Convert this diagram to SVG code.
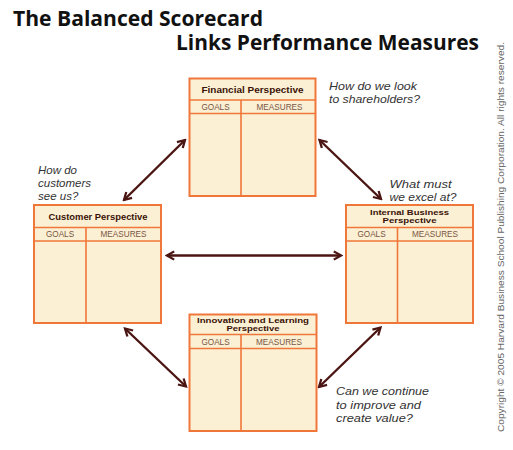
<svg xmlns="http://www.w3.org/2000/svg" width="513" height="450" viewBox="0 0 513 450">
<style>
.bg{fill:#ffffff}
.box{fill:#FBF0D3;stroke:#F0773A;stroke-width:2}
.sep{stroke:#F0773A;stroke-width:1.6;fill:none}
.hd{font-family:"Liberation Sans",Arial,sans-serif;font-weight:bold;font-size:9px;fill:#3A1208;text-anchor:middle}
.hd2{font-family:"Liberation Sans",Arial,sans-serif;font-weight:bold;font-size:7.2px;fill:#3A1208;text-anchor:middle}
.col{font-family:"Liberation Sans",Arial,sans-serif;font-size:8.2px;fill:#7A5444;text-anchor:middle}
.q{font-family:"Liberation Sans",Arial,sans-serif;font-style:italic;font-size:11.5px;fill:#333333}
.title{font-family:"Open Sans","Liberation Sans",sans-serif;font-weight:bold;font-size:21px;fill:#111111}
.copy{font-family:"Liberation Sans",Arial,sans-serif;font-size:9.5px;fill:#666666}
.arr{stroke:#4A1512;stroke-width:2.4;fill:none;marker-start:url(#hs);marker-end:url(#he)}
</style>
<defs>
<marker id="he" viewBox="0 0 10 10" refX="8" refY="5" markerWidth="4.3" markerHeight="4.3" orient="auto" markerUnits="strokeWidth">
<path d="M1,1 L8,5 L1,9" fill="none" stroke="#4A1512" stroke-width="2.2"/>
</marker>
<marker id="hs" viewBox="0 0 10 10" refX="2" refY="5" markerWidth="4.3" markerHeight="4.3" orient="auto" markerUnits="strokeWidth">
<path d="M9,1 L2,5 L9,9" fill="none" stroke="#4A1512" stroke-width="2.2"/>
</marker>
</defs>
<rect class="bg" x="0" y="0" width="513" height="450"/>
<g id="title">
<text class="title" x="13" y="26" textLength="250" lengthAdjust="spacingAndGlyphs">The Balanced Scorecard</text>
<text class="title" x="176" y="50" textLength="303" lengthAdjust="spacingAndGlyphs">Links Performance Measures</text>
</g>
<g id="copyright">
<text class="copy" transform="translate(504,432) rotate(-90)" textLength="390" lengthAdjust="spacingAndGlyphs">Copyright © 2005 Harvard Business School Publishing Corporation. All rights reserved.</text>
</g>
<g id="connectors">
<line class="arr" x1="185" y1="140" x2="124" y2="200"/>
<line class="arr" x1="319.5" y1="140" x2="381" y2="199"/>
<line class="arr" x1="167" y1="255.5" x2="341" y2="255.5"/>
<line class="arr" x1="125" y1="328.5" x2="186" y2="386.5"/>
<line class="arr" x1="380.5" y1="327.5" x2="319" y2="387"/>
</g>
<g id="financial">
<rect class="box" x="189.5" y="78.5" width="126" height="117.5"/>
<path class="sep" d="M189.5,100 H315.5 M189.5,113.5 H315.5 M241,100 V196"/>
<text class="hd" x="252.5" y="93" textLength="102" lengthAdjust="spacingAndGlyphs">Financial Perspective</text>
<text class="col" x="215.5" y="110">GOALS</text>
<text class="col" x="279.5" y="110">MEASURES</text>
</g>
<g id="customer">
<rect class="box" x="34" y="205" width="127" height="118"/>
<path class="sep" d="M34,227.5 H161 M34,241 H161 M86,227.5 V323"/>
<text class="hd" x="98" y="220" textLength="99" lengthAdjust="spacingAndGlyphs">Customer Perspective</text>
<text class="col" x="60" y="237">GOALS</text>
<text class="col" x="123.5" y="237">MEASURES</text>
</g>
<g id="internal">
<rect class="box" x="346" y="205" width="127" height="118"/>
<path class="sep" d="M346,227.5 H473 M346,241 H473 M397.5,227.5 V323"/>
<text class="hd2" x="409.5" y="214.5" textLength="79" lengthAdjust="spacingAndGlyphs">Internal Business</text>
<text class="hd2" x="409.5" y="222.8" textLength="54" lengthAdjust="spacingAndGlyphs">Perspective</text>
<text class="col" x="371.5" y="237">GOALS</text>
<text class="col" x="435" y="237">MEASURES</text>
</g>
<g id="innovation">
<rect class="box" x="189.5" y="314.5" width="127" height="116.5"/>
<path class="sep" d="M189.5,334.5 H316.5 M189.5,348.5 H316.5 M241,334.5 V431"/>
<text class="hd2" x="253" y="323" textLength="112" lengthAdjust="spacingAndGlyphs">Innovation and Learning</text>
<text class="hd2" x="253" y="331.3" textLength="53" lengthAdjust="spacingAndGlyphs">Perspective</text>
<text class="col" x="215.5" y="345">GOALS</text>
<text class="col" x="279" y="345">MEASURES</text>
</g>
<g id="questions">
<text class="q" x="329" y="90" textLength="88" lengthAdjust="spacingAndGlyphs">How do we look</text>
<text class="q" x="329" y="103" textLength="91" lengthAdjust="spacingAndGlyphs">to shareholders?</text>
<text class="q" x="389.5" y="188" textLength="62" lengthAdjust="spacingAndGlyphs">What must</text>
<text class="q" x="389.5" y="201" textLength="67" lengthAdjust="spacingAndGlyphs">we excel at?</text>
<text class="q" x="38" y="174">How do</text>
<text class="q" x="38" y="187">customers</text>
<text class="q" x="38" y="200">see us?</text>
<text class="q" x="336" y="395" textLength="93" lengthAdjust="spacingAndGlyphs">Can we continue</text>
<text class="q" x="336" y="408.5" textLength="85" lengthAdjust="spacingAndGlyphs">to improve and</text>
<text class="q" x="336" y="422" textLength="77" lengthAdjust="spacingAndGlyphs">create value?</text>
</g>
</svg>
